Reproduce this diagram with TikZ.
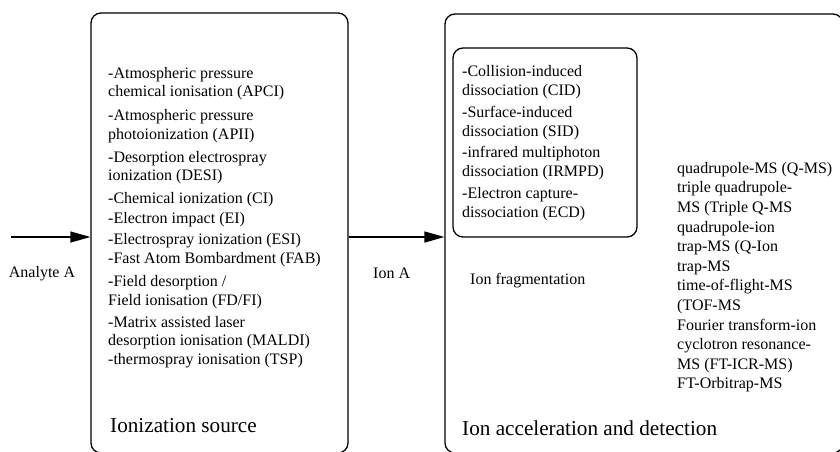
\documentclass[tikz,border=0pt]{standalone}
\usepackage{fontspec}
\setmainfont{Liberation Serif}
\usetikzlibrary{positioning, arrows.meta}

\begin{document}
\begin{tikzpicture}[x=1pt, y=-1pt, box/.style={draw, rounded corners=10pt, line width=1.3pt, inner sep=0pt}, every node/.style={font=\fontsize{16}{19}\selectfont}, list/.style={align=left, anchor=north west, inner sep=0pt}, tag/.style={anchor=base west, inner sep=0pt}, boxtitle/.style={anchor=base west, inner sep=0pt, font=\fontsize{21.2}{25}\selectfont}, flow/.style={-{Triangle[length=20pt, width=11pt]}, line width=1.3pt}]

    \useasboundingbox (0,0) rectangle (840,452);

    % Define the boxes (nodes)
    \node[box, minimum width=257pt, minimum height=440pt] (src) at (219.5,233) {}; % ionization source
    \node[box, minimum width=398pt, minimum height=439pt] (det) at (644,233.5) {}; % acceleration and detection
    \node[box, minimum width=184pt, minimum height=189pt] (frag) at (545,142.5) {}; % fragmentation, inside 'det'

    % Define the lists
    \node[list, font=\fontsize{16}{18.5}\selectfont] (srclist) at (108,67) {-Atmospheric pressure\\chemical ionisation (APCI)\\[5.5pt]
                    -Atmospheric pressure\\photoionization (APII)\\[4.5pt]
                    -Desorption electrospray\\ionization (DESI)\\[4.5pt]
                    -Chemical ionization (CI)\\[1.5pt]
                    -Electron impact (EI)\\[2.5pt]
                    -Electrospray ionization (ESI)\\[0.5pt]
                    -Fast Atom Bombardment (FAB)\\[4.5pt]
                    -Field desorption /\\Field ionisation (FD/FI)\\[3.5pt]
                    -Matrix assisted laser\\desorption ionisation (MALDI)\\
                    -thermospray ionisation (TSP)};
    \node[list] (fraglist) at (462,65) {-Collision-induced\\dissociation (CID)\\[2.7pt]
                    -Surface-induced\\dissociation (SID)\\[2.7pt]
                    -infrared multiphoton\\dissociation (IRMPD)\\[2.7pt]
                    -Electron capture-\\dissociation (ECD)};
    \node[list, font=\fontsize{16}{19.6}\selectfont] (mslist) at (677,162) {quadrupole-MS (Q-MS)\\triple quadrupole-\\MS (Triple Q-MS\\quadrupole-ion\\trap-MS (Q-Ion\\trap-MS\\time-of-flight-MS\\(TOF-MS\\Fourier transform-ion\\cyclotron resonance-\\MS (FT-ICR-MS)\\FT-Orbitrap-MS};

    % Labels and titles
    \node[tag, anchor=base] (analyte) at (42,277) {Analyte A};
    \node[tag] (ion) at (373,278) {Ion A};
    \node[tag] (fraglabel) at (470,284) {Ion fragmentation};
    \node[boxtitle] (srctitle) at (110,432) {Ionization source};
    \node[boxtitle] (dettitle) at (462,435) {Ion acceleration and detection};

    % Define the transitions (arrows)
    \coordinate (start) at (11,237);
    \draw[flow] (start) -- (src.west |- start);
    \draw[flow] (src.east |- start) -- (det.west |- start);
\end{tikzpicture}
\end{document}
